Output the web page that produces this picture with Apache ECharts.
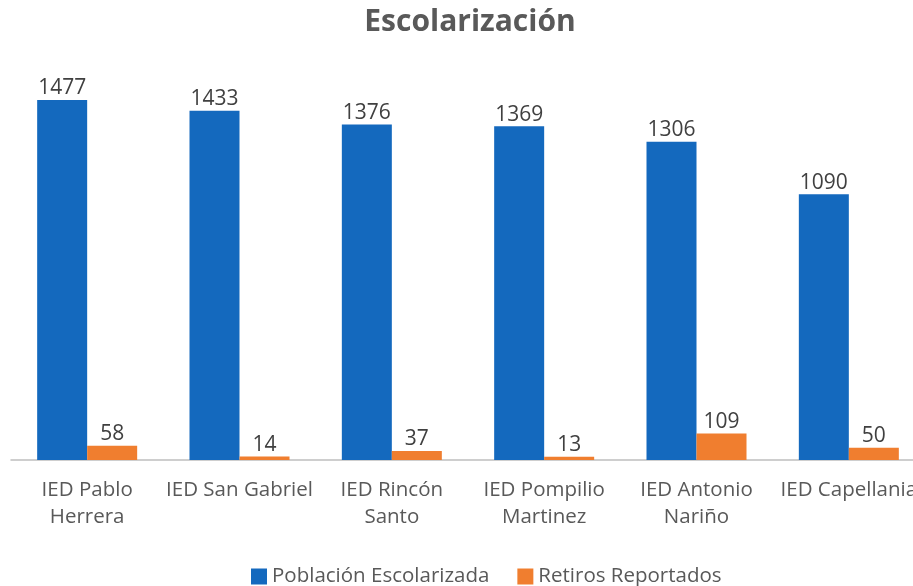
<!DOCTYPE html>
<html><head><meta charset="utf-8">
<script src="https://cdn.jsdelivr.net/npm/echarts@6/dist/echarts.min.js"></script>
<style>html,body{margin:0;padding:0;background:#fff}#c{width:913px;height:586px}</style>
</head><body><div id="c"></div>
<script>
const categories = ["IED Pablo\nHerrera", "IED San Gabriel", "IED Rincón\nSanto", "IED Pompilio\nMartinez", "IED Antonio\nNariño", "IED Capellania"];
const poblacion = [1477, 1433, 1376, 1369, 1306, 1090];
const retiros = [58, 14, 37, 13, 109, 50];
const seriesNames = ["Población Escolarizada", "Retiros Reportados"];
const FONT = "'Open Sans', 'Noto Sans', sans-serif";
const chart = echarts.init(document.getElementById('c'));
chart.setOption({
  animation: false,
  textStyle: { fontFamily: FONT },
  title: { text: 'Escolarización', left: 465, textAlign: 'center', top: 2,
    textStyle: { fontFamily: FONT, fontSize: 30, fontWeight: 'bold', color: '#595959' } },
  legend: { left: 246, top: 561, itemWidth: 16, itemHeight: 16, itemGap: 28, itemTextGap: 5,
    icon: 'rect', textStyle: { fontFamily: FONT, fontSize: 20.5, color: '#595959' } },
  grid: { left: 11, width: 914, top: 70, bottom: 126, containLabel: false, outerBoundsMode: 'none' },
  xAxis: { type: 'category', data: categories,
    axisLine: { lineStyle: { color: '#bfbfbf', width: 1.5 } }, axisTick: { show: false },
    axisLabel: { fontFamily: FONT, fontSize: 20.5, color: '#595959', margin: 17, lineHeight: 27, interval: 0 } },
  yAxis: { type: 'value', min: 0, max: 1600, show: false, splitLine: { show: false } },
  series: [
    { name: seriesNames[0], type: 'bar', data: poblacion, barWidth: 50, barGap: '0%',
      itemStyle: { color: '#1469be' },
      label: { show: true, position: 'top', distance: 1, fontFamily: FONT, fontSize: 21, color: '#404040' } },
    { name: seriesNames[1], type: 'bar', data: retiros, barWidth: 50,
      itemStyle: { color: '#f07e2f' },
      label: { show: true, position: 'top', distance: 1, fontFamily: FONT, fontSize: 21, color: '#404040' } }
  ]
});
</script></body></html>
